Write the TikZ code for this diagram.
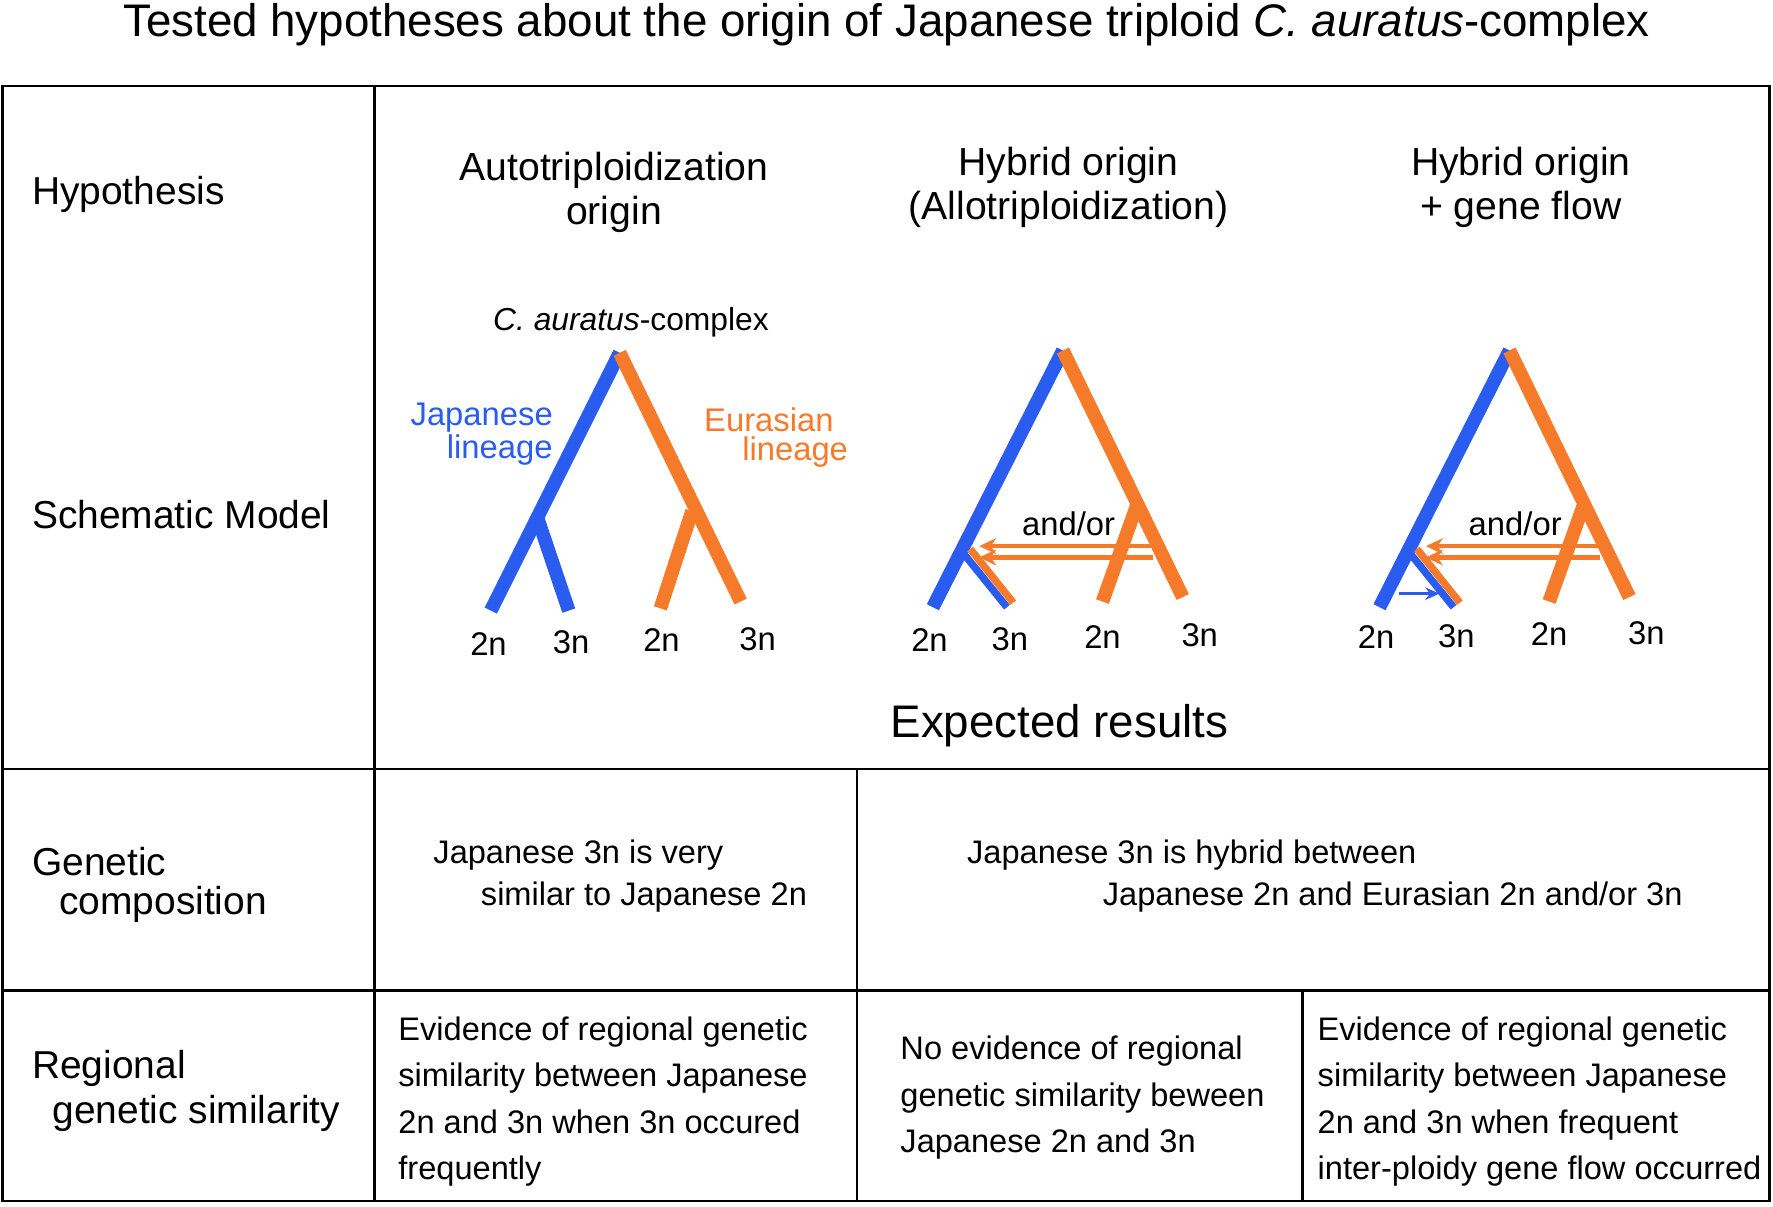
\documentclass[tikz,border=0pt]{standalone}
\usepackage{fontspec}
\setmainfont{Liberation Sans}
\usetikzlibrary{arrows.meta,calc}
\definecolor{bl}{HTML}{2B5CF0}
\definecolor{orn}{HTML}{F57A2A}
\begin{document}
\begin{tikzpicture}[x=0.02cm,y=-0.02cm,
  lbl/.style={font=\fontsize{16.5}{15}\selectfont,inner sep=0},
  body/.style={font=\fontsize{16.4}{23.3}\selectfont,inner sep=0,anchor=west},
  hdr/.style={font=\fontsize{19.7}{22}\selectfont,align=center,inner sep=0},
  lft/.style={font=\fontsize{19.6}{21.5}\selectfont,inner sep=0,anchor=west},
  tk/.style={line width=0.24cm},
  thin/.style={line width=0.08cm},
  grid/.style={line width=1.3pt}]
\useasboundingbox (0,0) rectangle (1568,1067);
\node[font=\fontsize{23}{26}\selectfont] (title) at (784,22) {Tested hypotheses about the origin of Japanese triploid \textit{C. auratus}-complex};
% grid
\draw[grid] (2,76) rectangle (1565,1062);
\draw[grid] (331,76) -- (331,1062);
\draw[grid] (2,680) -- (1565,680);
\draw[grid] (2,876) -- (1565,876);
\draw[grid] (758,680) -- (758,1062);
\draw[grid] (1152,876) -- (1152,1062);
% left column
\node[lft] (h) at (28,172) {Hypothesis};
\node[lft] (sm) at (28,455) {Schematic Model};
\node[lft] (g1) at (28,762) {Genetic};
\node[lft] (g2) at (52,800) {composition};
\node[lft] (r1) at (28,945) {Regional};
\node[lft] (r2) at (46,985) {genetic similarity};
% headers
\node[hdr] (a) at (543,170) {Autotriploidization\\origin};
\node[hdr] (b) at (945,166) {Hybrid origin\\(Allotriploidization)};
\node[hdr] (c) at (1345,166) {Hybrid origin\\+ gene flow};
\node[lbl,font=\fontsize{16}{19}\selectfont] (cx) at (558,285) {\textit{C. auratus}-complex};
\node[font=\fontsize{23}{26}\selectfont] (er) at (937,642) {Expected results};
% tree 1
\coordinate (A1) at (548,312);
\coordinate (j1) at (476,460);
\coordinate (e1) at (612,452);
\draw[tk,bl] (A1) -- (434,540) coordinate (b2n1);
\draw[tk,bl] (j1) -- (503,540) coordinate (b3n1);
\draw[tk,orn] (A1) -- (655,532) coordinate (o3n1);
\draw[tk,orn] (e1) -- (584,538) coordinate (o2n1);
\node[lbl,text=bl,align=center] (jl) at (426,384) {Japanese\\\hspace*{1.1em}lineage};
\node[lbl,text=orn,align=center] (el) at (680,387) {Eurasian\\\hspace*{1.6em}lineage};
\foreach \x/\y/\t/\n in {432/570/2n/p1,505/568/3n/p2,585/566/2n/p3,670/565/3n/p4,
  822/566/2n/q1,893/565/3n/q2,975/563/2n/q3,1061/562/3n/q4,
  1217/563/2n/r1,1288/563/3n/r2,1370/561/2n/r3,1456/560/3n/r4}
  \node[lbl] (\n) at (\x,\y) {\t};
% trees 2 and 3
\foreach \dx/\s in {0/b,395/c}{
 \begin{scope}[xshift=\dx*0.02cm]
  \coordinate (A\s) at (940,310);
  \coordinate (J\s) at (855,488);
  \coordinate (E\s) at (1005,448);
  \draw[tk,bl] (A\s) -- (825,537);
  \draw[tk,orn] (A\s) -- (1046,528);
  \draw[tk,orn] (E\s) -- (975,532);
  \draw[line width=0.13cm,bl] ($(J\s)+(-2.5,2)$) -- (890.5,537);
  \draw[line width=0.13cm,orn] ($(J\s)+(3,-2.5)$) -- (896,533);
  \draw[thin,orn,-{Stealth[length=0.3cm,width=0.28cm]}] (1020,483) -- (866,483);
  \draw[thin,orn,-{Stealth[length=0.3cm,width=0.28cm]}] (1020,493) -- (866,493);
  \node[lbl] (ao\s) at (945,463) {and/or};
 \end{scope}}
\draw[line width=0.06cm,bl,-{Stealth[length=0.25cm,width=0.22cm]}] (1237,525) -- (1273,525);
% genetic row
\node[body] (ga) at (383,756) {Japanese 3n is very};
\node[body] (gb) at (425,793) {similar to Japanese 2n};
\node[body] (gc) at (855,756) {Japanese 3n is hybrid between};
\node[body] (gd) at (975,793) {Japanese 2n and Eurasian 2n and/or 3n};
% regional row
\node[body,align=left,anchor=north west] (ra) at (352,899) {Evidence of regional genetic\\similarity between Japanese\\2n and 3n when 3n occured\\frequently};
\node[body,align=left,anchor=north west] (rb) at (796,916) {No evidence of regional\\genetic similarity beween\\Japanese 2n and 3n};
\node[body,align=left,anchor=north west] (rc) at (1165,899) {Evidence of regional genetic\\similarity between Japanese\\2n and 3n when frequent\\inter-ploidy gene flow occurred};
\end{tikzpicture}
\end{document}
